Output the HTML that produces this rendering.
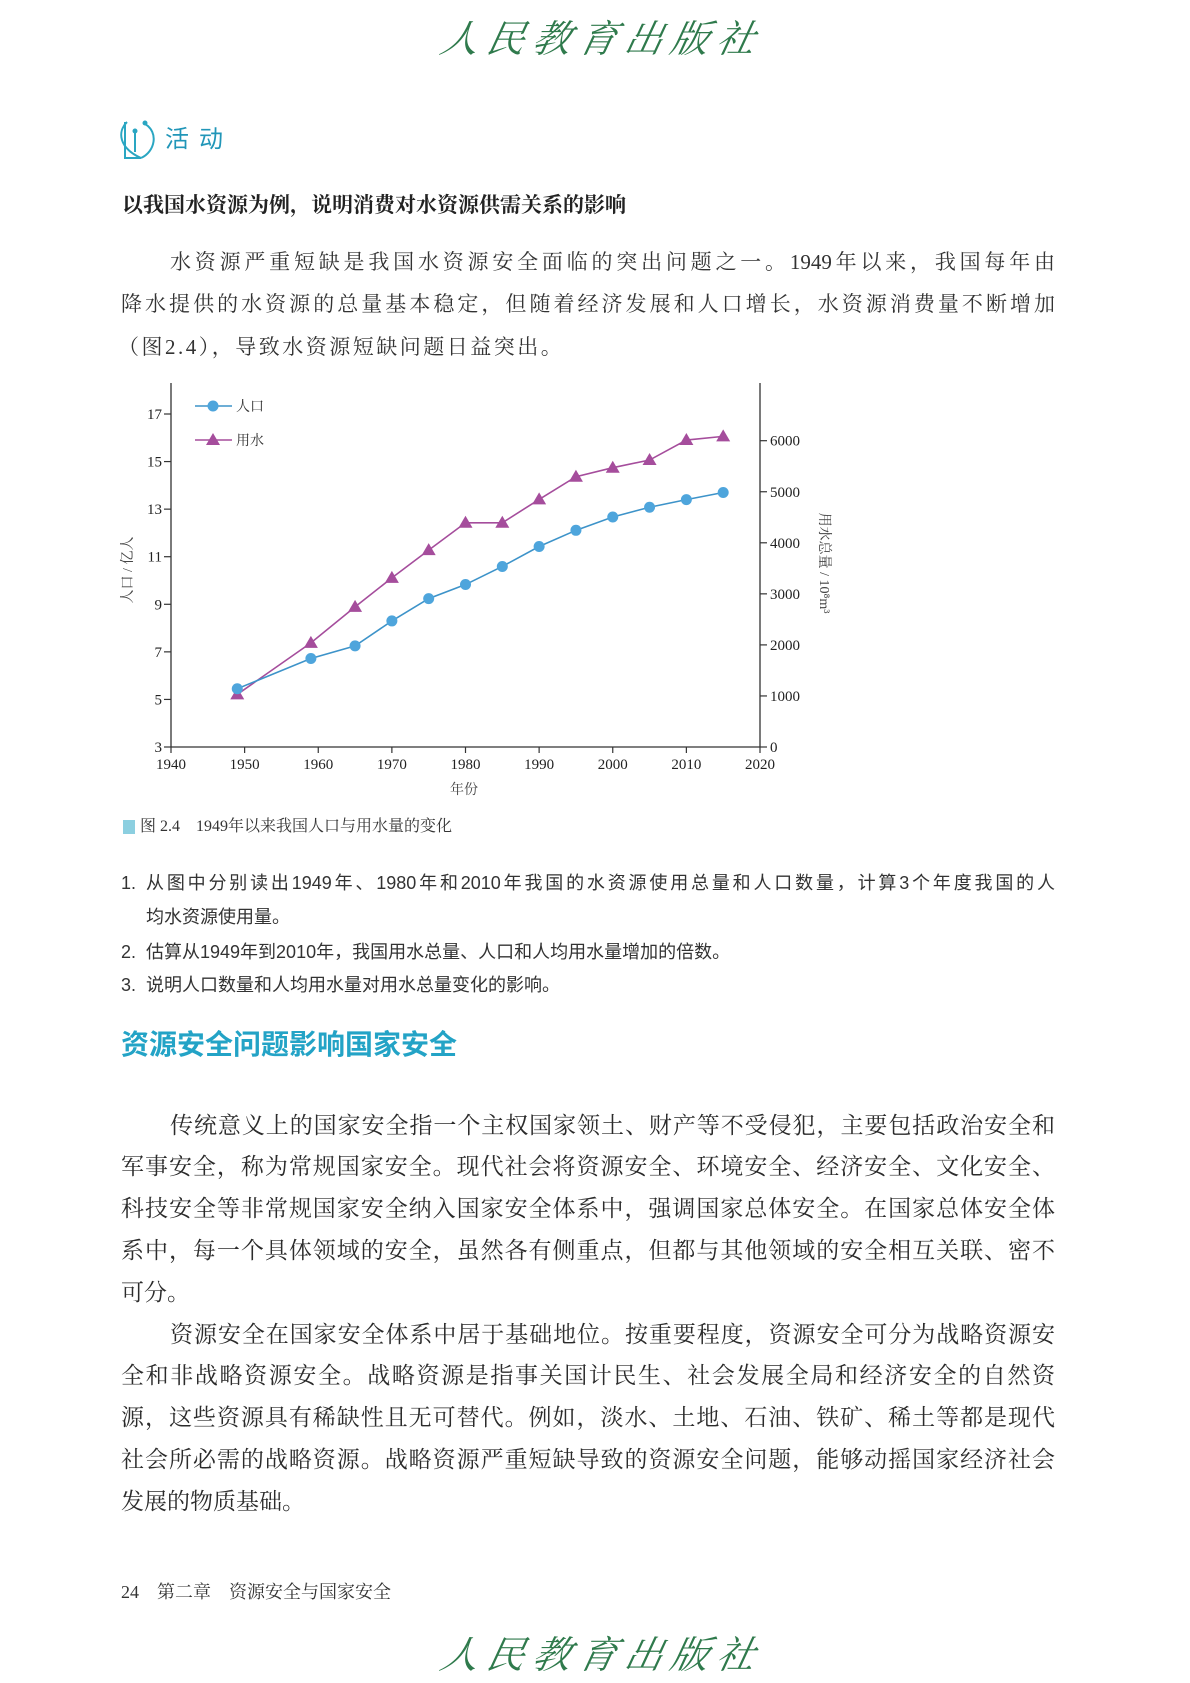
<!DOCTYPE html>
<html><head><meta charset="utf-8">
<style>
body{margin:0;background:#fff;}
#page{position:relative;width:1190px;height:1683px;overflow:hidden;background:#fff;font-family:"Liberation Serif","Noto Serif CJK SC",serif;color:#2b2b2b;}
.abs{position:absolute;white-space:nowrap;}
.ln{position:absolute;white-space:nowrap;text-align:justify;text-align-last:justify;}
.p1{font-size:21px;height:30px;line-height:30px;color:#333;}
.p2{font-size:23px;height:32px;line-height:32px;color:#2b2b2b;}
.li{font-family:"Liberation Sans","Noto Sans CJK SC",sans-serif;font-size:18px;height:26px;line-height:26px;color:#333;}
.logo{position:absolute;font-family:"Liberation Serif","Noto Serif CJK SC",serif;font-size:38px;color:#2f7a4c;letter-spacing:8px;transform:skewX(-12deg);font-style:italic;}
</style></head><body>
<div id="page">
<div class="logo" style="left:442px;top:8px;">人民教育出版社</div>

<svg class="abs" style="left:119px;top:118px" width="36" height="44">
<path d="M8 4 C-2 14 0 30 22 40 M6 4 L6 40 L22 40 M26 6 C40 14 36 34 22 40 M16 14 L16 34" fill="none" stroke="#2aa6c2" stroke-width="2"/>
<circle cx="26" cy="5" r="2.5" fill="#2aa6c2"/><circle cx="16" cy="13" r="2.5" fill="#2aa6c2"/>
</svg>
<div class="abs" style="left:165px;top:125px;font-size:24px;line-height:30px;color:#2196b8;letter-spacing:10px;font-family:'Liberation Sans','Noto Sans CJK SC',sans-serif">活动</div>

<div class="abs" style="left:122px;top:190px;font-size:21px;line-height:30px;font-weight:bold;color:#222">以我国水资源为例，说明消费对水资源供需关系的影响</div>

<div>
<div class="ln p1" style="left:170px;width:885px;top:247px">水资源严重短缺是我国水资源安全面临的突出问题之一。1949年以来，我国每年由</div>
<div class="ln p1" style="left:121px;width:934px;top:289px">降水提供的水资源的总量基本稳定，但随着经济发展和人口增长，水资源消费量不断增加</div>
<div class="abs p1" style="left:118px;top:332px;letter-spacing:2.5px">（图2.4），导致水资源短缺问题日益突出。</div>
</div>

<svg id="chart" class="abs" style="left:0;top:0" width="1190" height="820"></svg>

<div class="abs" style="left:123px;top:820px;width:12px;height:14px;background:#8ccfe0"></div>
<div class="abs" style="left:140px;top:815px;font-size:16px;line-height:24px;color:#333">图 2.4　1949年以来我国人口与用水量的变化</div>

<div>
<div class="abs li" style="left:121px;top:870px">1.</div>
<div class="ln li" style="left:146px;width:909px;top:870px">从图中分别读出1949年、1980年和2010年我国的水资源使用总量和人口数量，计算3个年度我国的人</div>
<div class="abs li" style="left:146px;top:904px">均水资源使用量。</div>
<div class="abs li" style="left:121px;top:939px">2.</div>
<div class="abs li" style="left:146px;top:939px">估算从1949年到2010年，我国用水总量、人口和人均用水量增加的倍数。</div>
<div class="abs li" style="left:121px;top:972px">3.</div>
<div class="abs li" style="left:146px;top:972px">说明人口数量和人均用水量对用水总量变化的影响。</div>
</div>

<div class="abs" style="left:121px;top:1027px;font-size:28px;line-height:36px;color:#23a3c6;font-family:'Liberation Sans','Noto Sans CJK SC',sans-serif;font-weight:bold">资源安全问题影响国家安全</div>

<div>
<div class="ln p2" style="left:170px;width:885px;top:1110px">传统意义上的国家安全指一个主权国家领土、财产等不受侵犯，主要包括政治安全和</div>
<div class="ln p2" style="left:121px;width:934px;top:1151px">军事安全，称为常规国家安全。现代社会将资源安全、环境安全、经济安全、文化安全、</div>
<div class="ln p2" style="left:121px;width:934px;top:1193px">科技安全等非常规国家安全纳入国家安全体系中，强调国家总体安全。在国家总体安全体</div>
<div class="ln p2" style="left:121px;width:934px;top:1235px">系中，每一个具体领域的安全，虽然各有侧重点，但都与其他领域的安全相互关联、密不</div>
<div class="abs p2" style="left:121px;top:1277px">可分。</div>
</div>
<div>
<div class="ln p2" style="left:170px;width:885px;top:1319px">资源安全在国家安全体系中居于基础地位。按重要程度，资源安全可分为战略资源安</div>
<div class="ln p2" style="left:121px;width:934px;top:1360px">全和非战略资源安全。战略资源是指事关国计民生、社会发展全局和经济安全的自然资</div>
<div class="ln p2" style="left:121px;width:934px;top:1402px">源，这些资源具有稀缺性且无可替代。例如，淡水、土地、石油、铁矿、稀土等都是现代</div>
<div class="ln p2" style="left:121px;width:934px;top:1444px">社会所必需的战略资源。战略资源严重短缺导致的资源安全问题，能够动摇国家经济社会</div>
<div class="abs p2" style="left:121px;top:1486px">发展的物质基础。</div>
</div>

<div class="abs" style="left:121px;top:1580px;font-size:18px;line-height:24px;color:#333">24　第二章　资源安全与国家安全</div>
<div class="logo" style="left:442px;top:1624px;">人民教育出版社</div>
</div>

<script>
const years = [1949,1959,1965,1970,1975,1980,1985,1990,1995,2000,2005,2010,2015];
const population = [5.45,6.72,7.25,8.3,9.24,9.83,10.59,11.43,12.11,12.67,13.08,13.4,13.7];
const waterUse = [1030,2040,2745,3313,3856,4392,4392,4850,5294,5471,5621,6013,6085];
const xTicks = [1940,1950,1960,1970,1980,1990,2000,2010,2020];
const yLeftTicks = [3,5,7,9,11,13,15,17];
const yRightTicks = [0,1000,2000,3000,4000,5000,6000];

const svg = document.getElementById('chart');
const NS = 'http://www.w3.org/2000/svg';
const L = 171, R = 760, B = 747, T = 383;
const xS = v => L + (v - 1940) / 80 * (R - L);
const yL = v => B - (v - 3) / 14 * (B - 414);
const yR = v => B - v / 6000 * (B - 440.7);
function mk(tag, attrs, txt){
  const e = document.createElementNS(NS, tag);
  for (const k in attrs) e.setAttribute(k, attrs[k]);
  if (txt !== undefined) e.textContent = txt;
  svg.appendChild(e);
  return e;
}
const F = '"Liberation Serif","Noto Serif CJK SC",serif';
let e;
e = mk('line',{x1:L,y1:T,x2:L,y2:B,stroke:'#333','stroke-width':1.3});


e = mk('line',{x1:R,y1:T,x2:R,y2:B,stroke:'#333','stroke-width':1.3});


e = mk('line',{x1:L,y1:B,x2:R,y2:B,stroke:'#333','stroke-width':1.3});


xTicks.forEach(v=>{
  e = mk('line',{x1:xS(v),y1:B,x2:xS(v),y2:B+6,stroke:'#333','stroke-width':1.2});
  
  
  e = mk('text',{x:xS(v),y:B+22,'text-anchor':'middle','font-size':15,'font-family':F,fill:'#222'},String(v));
  
  
});
yLeftTicks.forEach(v=>{
  e = mk('line',{x1:L-7,y1:yL(v),x2:L,y2:yL(v),stroke:'#333','stroke-width':1.2});
  
  
  e = mk('text',{x:L-9,y:yL(v)+5,'text-anchor':'end','font-size':15,'font-family':F,fill:'#222'},String(v));
  
  
});
yRightTicks.forEach(v=>{
  e = mk('line',{x1:R,y1:yR(v),x2:R+7,y2:yR(v),stroke:'#333','stroke-width':1.2});
  
  
  e = mk('text',{x:R+10,y:yR(v)+5,'text-anchor':'start','font-size':15,'font-family':F,fill:'#222'},String(v));
  
  
});
e = mk('text',{x:464,y:794,'text-anchor':'middle','font-size':14,'font-family':F,fill:'#444'},'年份');


e = mk('text',{x:0,y:0,'text-anchor':'middle','font-size':14,'font-family':F,fill:'#444',transform:'translate(132,570) rotate(-90)'},'人口 / 亿人');


e = mk('text',{x:0,y:0,'text-anchor':'middle','font-size':14,'font-family':F,fill:'#444',transform:'translate(820,563) rotate(90)'},'用水总量 / 10⁸m³');



const blue = '#4ea5dc', blueLine = '#3d93c9', purple = '#a54d9c';
e = mk('polyline',{points:years.map((y,i)=>xS(y)+','+yR(waterUse[i])).join(' '),fill:'none',stroke:purple,'stroke-width':1.6});


e = mk('polyline',{points:years.map((y,i)=>xS(y)+','+yL(population[i])).join(' '),fill:'none',stroke:blueLine,'stroke-width':1.6});


years.forEach((y,i)=>{
  const cx = xS(y), cy = yR(waterUse[i]);
  e = mk('polygon',{points:`${cx},${cy-7} ${cx-7},${cy+5} ${cx+7},${cy+5}`,fill:purple});
  
  
});
years.forEach((y,i)=>{
  e = mk('circle',{cx:xS(y),cy:yL(population[i]),r:5.5,fill:blue});
  
  
});
e = mk('line',{x1:195,y1:406,x2:232,y2:406,stroke:blueLine,'stroke-width':1.6});


e = mk('circle',{cx:213,cy:406,r:5.5,fill:blue});


e = mk('text',{x:236,y:411,'font-size':14,'font-family':F,fill:'#333'},'人口');


e = mk('line',{x1:195,y1:440,x2:232,y2:440,stroke:purple,'stroke-width':1.6});


e = mk('polygon',{points:'213,433 206,445 220,445',fill:purple});


e = mk('text',{x:236,y:445,'font-size':14,'font-family':F,fill:'#333'},'用水');


</script>
</body></html>
